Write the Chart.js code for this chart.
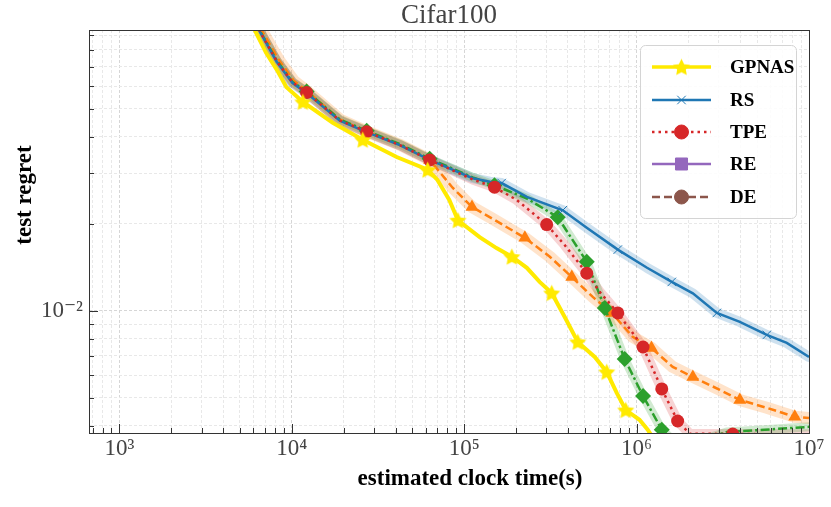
<!DOCTYPE html>
<html>
<head>
<meta charset="utf-8">
<title>Cifar100</title>
<script src="https://cdn.jsdelivr.net/npm/chart.js@4.4.1/dist/chart.umd.min.js"></script>
<style>
  html, body { margin: 0; padding: 0; background: #fff; }
</style>
</head>
<body>
<canvas id="chart" width="831" height="507"></canvas>
<script>
// axis ranges (log scales)
const xMin = 667, xMax = 1e7;
const yMin = 0.00378, yMax = 0.0938;

// GPNAS (yellow, stars)
const gpnasTime = [5.9e3, 6.1e3, 7.1e3, 8.2e3, 9.3e3, 1.16e4, 1.73e4, 2.58e4, 4.06e4, 6.14e4, 7.0e4, 8.2e4, 9.2e4, 1.23e5,
  1.54e5, 1.89e5, 2.31e5, 2.74e5, 3.22e5, 3.83e5, 4.56e5, 5.72e5, 6.71e5, 7.67e5, 8.65e5, 1.04e6, 1.16e6, 1.3e6];
const gpnasRegret = [0.102, 0.0938, 0.0782, 0.0683, 0.0596, 0.0529, 0.0448, 0.0391, 0.0341, 0.0308, 0.0284, 0.0242, 0.0206, 0.0180,
  0.0165, 0.0154, 0.0141, 0.0126, 0.01153, 0.00953, 0.00781, 0.00693, 0.00615, 0.00520, 0.00454, 0.00420, 0.00388, 0.0035];
const gpnasMarks = [5, 7, 9, 12, 15, 18, 20, 22, 24];

// RS (blue, x)
const rsTime = [6.0e3, 6.55e3, 8.2e3, 1.01e4, 1.22e4, 1.9e4, 2.72e4, 4.23e4, 6.31e4, 1.12e5, 1.41e5, 1.65e5, 2.31e5, 3.73e5,
  5.14e5, 7.78e5, 1.15e6, 1.6e6, 2.12e6, 2.92e6, 3.97e6, 5.69e6, 7.43e6, 1e7];
const rsRegret = [0.105, 0.0923, 0.0727, 0.0615, 0.0568, 0.0455, 0.0416, 0.0375, 0.0333, 0.0288, 0.0280, 0.0277, 0.0248, 0.0223,
  0.0194, 0.0163, 0.0141, 0.0126, 0.0115, 0.00984, 0.00916, 0.00826, 0.00775, 0.00693];
const rsMarks = [4, 6, 8, 11, 13, 15, 17, 19, 21];

// TPE (red, dotted, circles)
const tpeTime = [6.1e3, 6.55e3, 8.2e3, 1.01e4, 1.22e4, 1.9e4, 2.72e4, 4.23e4, 6.31e4, 1.12e5, 1.5e5, 2.02e5, 3.01e5, 3.83e5,
  5.14e5, 6.11e5, 7.78e5, 1.09e6, 1.4e6, 1.73e6, 2.03e6, 3.61e6, 7.74e6, 1e7];
const tpeRegret = [0.104, 0.0925, 0.0730, 0.0618, 0.0570, 0.0456, 0.0417, 0.0375, 0.0333, 0.0285, 0.0268, 0.0242, 0.0199, 0.0169,
  0.0135, 0.01164, 0.00984, 0.00750, 0.00537, 0.00416, 0.00376, 0.00375, 0.00374, 0.00374];
const tpeMarks = [4, 6, 8, 10, 12, 14, 16, 17, 18, 19, 21];

// green dash-dot series (diamonds)
const greenTime = [6.1e3, 6.55e3, 8.2e3, 1.01e4, 1.22e4, 1.9e4, 2.72e4, 4.23e4, 6.31e4, 1.12e5, 1.5e5, 2.31e5, 3.49e5, 5.14e5,
  6.54e5, 8.53e5, 1.09e6, 1.4e6, 1.6e6, 2.5e6, 3.33e6, 5.53e6, 1e7];
const greenRegret = [0.105, 0.0930, 0.0735, 0.0620, 0.0575, 0.0460, 0.0420, 0.0378, 0.0336, 0.0290, 0.0272, 0.0245, 0.0211, 0.0148,
  0.01024, 0.00682, 0.00508, 0.00388, 0.0036, 0.0036, 0.00381, 0.00388, 0.00397];
const greenMarks = [4, 6, 8, 10, 12, 13, 14, 15, 16, 17];

// orange dashed series (triangles)
const orangeTime = [6.3e3, 6.7e3, 8.4e3, 1.03e4, 1.22e4, 1.9e4, 2.72e4, 4.23e4, 6.31e4, 8.57e4, 1.11e5, 1.47e5, 2.25e5, 3.14e5,
  4.21e5, 5.57e5, 7.18e5, 9.5e5, 1.22e6, 1.62e6, 2.12e6, 3.04e6, 3.97e6, 5.69e6, 8.27e6, 1e7];
const orangeRegret = [0.105, 0.0935, 0.0740, 0.0625, 0.0578, 0.0460, 0.0418, 0.0376, 0.0333, 0.0267, 0.0229, 0.0208, 0.0179, 0.0154,
  0.0131, 0.01118, 0.00984, 0.00813, 0.00744, 0.00640, 0.00591, 0.00533, 0.00492, 0.00462, 0.00430, 0.00426];
const orangeMarks = [4, 6, 8, 10, 12, 14, 16, 18, 20, 22, 24];

// legend as it appears in the figure
const legendLabels = ['GPNAS', 'RS', 'TPE', 'RE', 'DE'];
const legendColors = ['#ffea00', '#1f77b4', '#d62728', '#9467bd', '#8c564b'];
const legendDash = [[], [], [2.5, 4], [], [8, 4]];
const legendMarker = ['star', 'crossRot', 'circle', 'rect', 'circle'];

const serif = '"Liberation Serif", "DejaVu Serif", serif';

function starImage(size, color) {
    const c = document.createElement('canvas');
    c.width = size;
    c.height = size;
    const g = c.getContext('2d');
    const ro = size / 2 - 0.5, ri = ro * 0.5;
    g.beginPath();
    for (let i = 0; i < 10; i++) {
        const r = i % 2 ? ri : ro;
        const a = -Math.PI / 2 + i * Math.PI / 5;
        g.lineTo(size / 2 + r * Math.cos(a), size / 2 + 0.8 + r * Math.sin(a));
    }
    g.closePath();
    g.fillStyle = color;
    g.fill();
    return c;
}
const star = starImage(19, legendColors[0]);

function logTicks(min, max) {
    const ticks = [];
    for (let e = Math.floor(Math.log10(min)); e <= Math.ceil(Math.log10(max)); e++) {
        for (let m = 1; m < 10; m++) {
            const v = +(m * Math.pow(10, e)).toPrecision(6);
            if (v >= min && v <= max * 1.0001) ticks.push({ value: v, major: m === 1 });
        }
    }
    return ticks;
}

const sup = { '-': '⁻', '0': '⁰', '1': '¹', '2': '²', '3': '³', '4': '⁴', '5': '⁵', '6': '⁶', '7': '⁷', '8': '⁸', '9': '⁹' };
function pow10Label(v) {
    const e = String(Math.round(Math.log10(v)));
    return '10' + e.split('').map(ch => sup[ch]).join('');
}

function pts(xs, ys) {
    return xs.map((x, i) => ({ x, y: ys[i] }));
}
function markAt(marks, r) {
    return ctx => marks.includes(ctx.dataIndex) ? r : 0;
}
function band(xs, ys, color, width) {
    return {
        data: pts(xs, ys), borderColor: color, borderWidth: width, pointRadius: 0,
        borderJoinStyle: 'round', borderCapStyle: 'round', order: 10
    };
}

const datasets = [
    band(orangeTime, orangeRegret, 'rgba(255,127,14,0.22)', 12),
    band(greenTime, greenRegret, 'rgba(44,160,44,0.22)', 9),
    band(rsTime, rsRegret, 'rgba(31,119,180,0.22)', 10),
    band(tpeTime, tpeRegret, 'rgba(214,39,40,0.2)', 10),
    {
        label: 'dashed', data: pts(orangeTime, orangeRegret), borderColor: '#ff7f0e', borderWidth: 2.5,
        borderDash: [8, 4], pointStyle: 'triangle', pointRadius: markAt(orangeMarks, 7.5),
        pointBackgroundColor: '#ff7f0e', pointBorderColor: '#ff7f0e', pointBorderWidth: 0, order: 5
    },
    {
        label: 'dash-dot', data: pts(greenTime, greenRegret), borderColor: '#2ca02c', borderWidth: 2.5,
        borderDash: [9, 3, 2.5, 3], pointStyle: 'rectRot', pointRadius: markAt(greenMarks, 8),
        pointBackgroundColor: '#2ca02c', pointBorderColor: '#2ca02c', pointBorderWidth: 0, order: 4
    },
    {
        label: 'RS', data: pts(rsTime, rsRegret), borderColor: '#1f77b4', borderWidth: 2.5,
        pointStyle: 'crossRot', pointRadius: markAt(rsMarks, 6),
        pointBorderColor: '#1f77b4', pointBorderWidth: 1, order: 3
    },
    {
        label: 'TPE', data: pts(tpeTime, tpeRegret), borderColor: '#d62728', borderWidth: 2.5,
        borderDash: [2.5, 4], pointStyle: 'circle', pointRadius: markAt(tpeMarks, 6.5),
        pointBackgroundColor: '#d62728', pointBorderColor: '#d62728', pointBorderWidth: 0, order: 2
    },
    {
        label: 'GPNAS', data: pts(gpnasTime, gpnasRegret), borderColor: legendColors[0], borderWidth: 4,
        pointStyle: star, pointRadius: markAt(gpnasMarks, 9), order: 1
    }
];

function drawMarker(ctx, style, color, x, y) {
    ctx.save();
    ctx.fillStyle = color;
    ctx.strokeStyle = color;
    if (style === 'star') {
        ctx.drawImage(star, x - star.width / 2, y - star.height / 2);
    } else {
        const r = style === 'crossRot' ? 6 : style === 'rect' ? 8.5 : 7;
        ctx.lineWidth = style === 'crossRot' ? 1 : 0;
        Chart.helpers.drawPoint(ctx, { pointStyle: style, radius: r, rotation: 0, borderWidth: ctx.lineWidth }, x, y);
    }
    ctx.restore();
}

const decor = {
    id: 'decor',
    afterDatasetsDraw(chart) {
        const { ctx, chartArea: a, scales } = chart;
        ctx.save();
        ctx.strokeStyle = '#333';
        ctx.lineWidth = 1;
        // inward tick marks on the bottom and left spines
        scales.x.ticks.forEach(t => {
            const px = Math.round(scales.x.getPixelForValue(t.value)) + 0.5;
            ctx.beginPath();
            ctx.moveTo(px, a.bottom);
            ctx.lineTo(px, a.bottom - (t.major ? 9 : 5));
            ctx.stroke();
        });
        scales.y.ticks.forEach(t => {
            const py = Math.round(scales.y.getPixelForValue(t.value)) + 0.5;
            ctx.beginPath();
            ctx.moveTo(a.left, py);
            ctx.lineTo(a.left + (t.major ? 9 : 5), py);
            ctx.stroke();
        });
        ctx.strokeRect(a.left + 0.5, a.top + 0.5, a.right - a.left, a.bottom - a.top);
        ctx.restore();
    },
    afterDraw(chart) {
        const ctx = chart.ctx;
        ctx.save();
        // axis titles
        ctx.fillStyle = '#000';
        ctx.font = 'bold 23px ' + serif;
        ctx.textAlign = 'center';
        ctx.textBaseline = 'middle';
        ctx.fillText('estimated clock time(s)', 470, 479);
        ctx.save();
        ctx.translate(25, 195);
        ctx.rotate(-Math.PI / 2);
        ctx.fillText('test regret', 0, 0);
        ctx.restore();

        // legend box
        const bx = 640.5, by = 45.5, bw = 156, bh = 173, rr = 5;
        ctx.beginPath();
        ctx.roundRect(bx, by, bw, bh, rr);
        ctx.fillStyle = 'rgba(255,255,255,0.85)';
        ctx.fill();
        ctx.strokeStyle = '#d4d4d4';
        ctx.lineWidth = 1;
        ctx.stroke();

        const rows = [67, 100, 132, 164, 197];
        legendLabels.forEach((label, i) => {
            const y = rows[i];
            ctx.save();
            ctx.strokeStyle = legendColors[i];
            ctx.lineWidth = i === 0 ? 3.5 : 2.5;
            ctx.setLineDash(legendDash[i]);
            ctx.beginPath();
            ctx.moveTo(652, y);
            ctx.lineTo(711, y);
            ctx.stroke();
            ctx.restore();
            drawMarker(ctx, legendMarker[i], legendColors[i], 681.5, y);
            ctx.fillStyle = '#000';
            ctx.font = 'bold 19px ' + serif;
            ctx.textAlign = 'left';
            ctx.textBaseline = 'middle';
            ctx.fillText(label, 730, y + 1);
        });
        ctx.restore();
    }
};

const tickFont = { family: serif, size: 23 };

new Chart(document.getElementById('chart'), {
    type: 'line',
    data: { datasets },
    options: {
        responsive: false,
        animation: false,
        layout: { padding: { left: 0, right: 22, top: 0, bottom: 0 } },
        plugins: {
            legend: { display: false },
            tooltip: { enabled: false },
            title: {
                display: true, text: 'Cifar100', fullSize: false, color: '#444',
                font: { family: serif, size: 27, weight: 'normal', lineHeight: 1 },
                padding: { top: 2, bottom: 1 }
            }
        },
        scales: {
            x: {
                type: 'logarithmic', min: xMin, max: xMax,
                afterBuildTicks: s => { s.ticks = logTicks(xMin, xMax); },
                afterFit: s => { s.height = 74; },
                ticks: {
                    autoSkip: false, maxRotation: 0, padding: 2, color: '#444', font: tickFont,
                    callback: (v, i, t) => t[i].major ? pow10Label(v) : ''
                },
                grid: { drawTicks: false, color: c => c.tick && c.tick.major ? '#d6d6d6' : '#e8e8e8' },
                border: { display: false, dash: [3, 2] }
            },
            y: {
                type: 'logarithmic', min: yMin, max: yMax,
                afterBuildTicks: s => { s.ticks = logTicks(yMin, yMax); },
                afterFit: s => { s.width = 89; },
                ticks: {
                    autoSkip: false, padding: 6, color: '#444', font: tickFont,
                    callback: (v, i, t) => t[i].major ? pow10Label(v) : ''
                },
                grid: { drawTicks: false, color: c => c.tick && c.tick.major ? '#d6d6d6' : '#e8e8e8' },
                border: { display: false, dash: [3, 2] }
            }
        }
    },
    plugins: [decor]
});
</script>
</body>
</html>
